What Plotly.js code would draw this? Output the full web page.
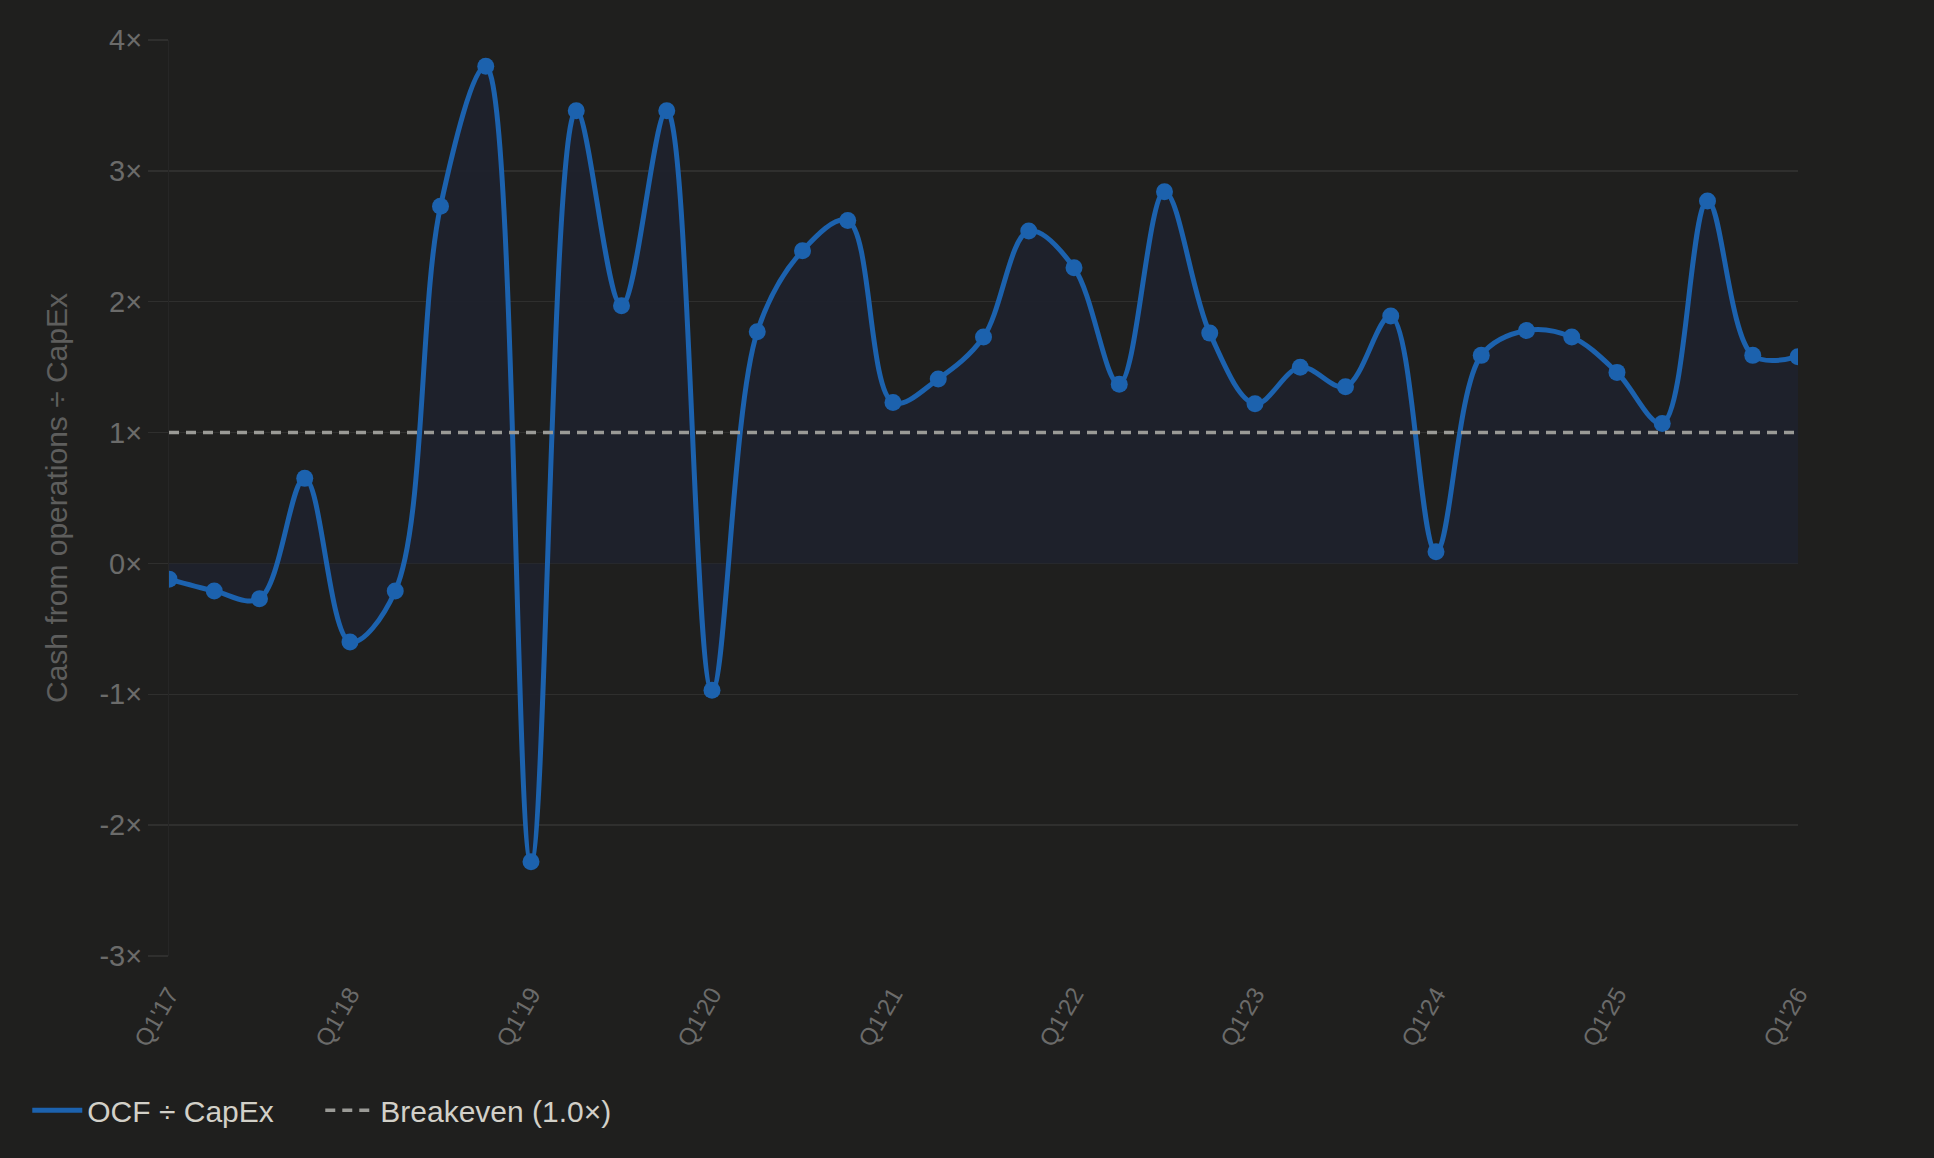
<!DOCTYPE html>
<html>
<head>
<meta charset="utf-8">
<script src="https://cdn.plot.ly/plotly-3.0.1.min.js"></script>
<style>
  html, body { margin: 0; padding: 0; background: #1f1f1e; }
  #chart { width: 1934px; height: 1158px; }
</style>
</head>
<body>
<div id="chart"></div>
<script>
'use strict'

// quarters Q1'17 .. Q1'26
const quarters = [
    "Q1'17", "Q2'17", "Q3'17", "Q4'17",
    "Q1'18", "Q2'18", "Q3'18", "Q4'18",
    "Q1'19", "Q2'19", "Q3'19", "Q4'19",
    "Q1'20", "Q2'20", "Q3'20", "Q4'20",
    "Q1'21", "Q2'21", "Q3'21", "Q4'21",
    "Q1'22", "Q2'22", "Q3'22", "Q4'22",
    "Q1'23", "Q2'23", "Q3'23", "Q4'23",
    "Q1'24", "Q2'24", "Q3'24", "Q4'24",
    "Q1'25", "Q2'25", "Q3'25", "Q4'25",
    "Q1'26"
];

// operating cash flow divided by capex
const ocfCapex = [
    -0.12, -0.21, -0.27, 0.65,
    -0.60, -0.21, 2.73, 3.80,
    -2.28, 3.46, 1.97, 3.46,
    -0.97, 1.77, 2.39, 2.62,
    1.23, 1.41, 1.73, 2.54,
    2.26, 1.37, 2.84, 1.76,
    1.22, 1.50, 1.35, 1.89,
    0.09, 1.59, 1.78, 1.73,
    1.46, 1.07, 2.77, 1.59,
    1.58
];

const breakeven = 1.0;
const yTicks = [-3, -2, -1, 0, 1, 2, 3, 4];
const yTickText = ['-3×', '-2×', '-1×', '0×', '1×', '2×', '3×', '4×'];
const xTicks = quarters.filter((q, i) => i % 4 === 0);

const blue = '#1c62ae';

let traceRatio = {
    x: quarters,
    y: ocfCapex,
    name: 'OCF ÷ CapEx',
    type: 'scatter',
    mode: 'lines+markers',
    showlegend: false,
    line: {color: blue, width: 5, shape: 'spline', smoothing: 1},
    marker: {color: blue, size: 17},
    fill: 'tozeroy',
    fillcolor: 'rgba(31,34,44,0.95)'
};

// legend entry only (the chart legend shows a plain line, no marker)
let traceRatioKey = {
    x: [quarters[0]],
    y: [null],
    name: 'OCF ÷ CapEx',
    type: 'scatter',
    mode: 'lines',
    line: {color: blue, width: 5}
};

let traceBreakeven = {
    x: [quarters[0], quarters[quarters.length - 1]],
    y: [breakeven, breakeven],
    name: 'Breakeven (1.0×)',
    type: 'scatter',
    mode: 'lines',
    line: {color: '#9a9a96', width: 3.5, dash: '10px,7px'}
};

let layout = {
    width: 1934,
    height: 1158,
    plot_bgcolor: '#1f1f1e',
    paper_bgcolor: '#1f1f1e',
    margin: {l: 169, r: 136, t: 40, b: 202},
    font: {family: 'Liberation Sans, Arial, sans-serif', color: '#6b6b6a'},
    showlegend: true,
    legend: {
        orientation: 'h',
        x: -0.087, y: -0.14,
        xanchor: 'left', yanchor: 'top',
        font: {size: 30, color: '#d2d0c8', family: 'Liberation Sans, Arial, sans-serif'},
        itemwidth: 50,
        entrywidth: 228,
        entrywidthmode: 'pixels'
    },
    xaxis: {
        type: 'category',
        range: [0, quarters.length - 1],
        tickmode: 'array',
        tickvals: xTicks,
        ticktext: xTicks,
        tickangle: -60,
        tickfont: {size: 24, color: '#6b6b6a'},
        showgrid: false,
        zeroline: false,
        showline: false,
        ticks: 'outside',
        ticklen: 14,
        tickcolor: 'rgba(0,0,0,0)'
    },
    yaxis: {
        range: [-3, 4],
        tickmode: 'array',
        tickvals: yTicks,
        ticktext: yTickText,
        tickfont: {size: 29, color: '#6b6b6a'},
        gridcolor: '#2f2f2e',
        gridwidth: 1.5,
        zeroline: false,
        showline: true,
        linecolor: '#262626',
        linewidth: 1,
        ticks: 'outside',
        ticklen: 20,
        tickcolor: '#2f2f2e',
        tickwidth: 1.5,
        title: {
            text: 'Cash from operations ÷ CapEx',
            font: {size: 30, color: '#5e5e5d'},
            standoff: 22
        }
    }
};

Plotly.newPlot('chart', [traceRatio, traceRatioKey, traceBreakeven], layout, {displayModeBar: false, staticPlot: true});
</script>
</body>
</html>
